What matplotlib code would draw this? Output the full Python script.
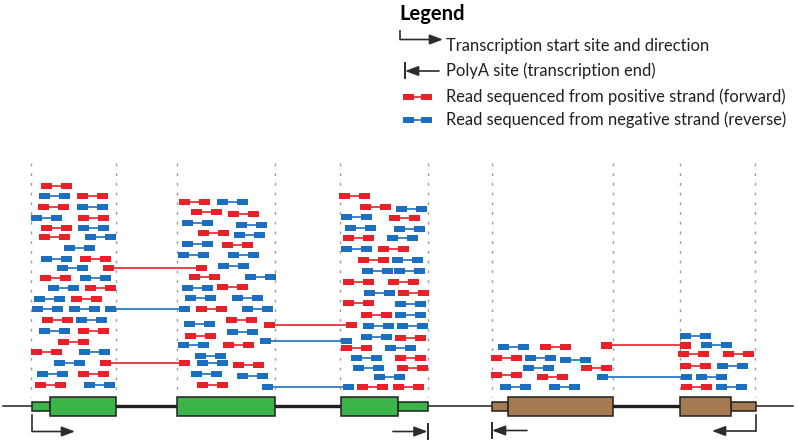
import matplotlib.pyplot as plt
from matplotlib.patches import Rectangle

plt.rcParams['font.family'] = ['Lato', 'DejaVu Sans']

RED = '#e8202a'
BLUE = '#1c6fbe'
GREEN = '#3cb44a'
BROWN = '#a57a50'
DARK = '#231f20'

# reads inside one exon: (start x, row y)
red_reads = [
    # exon 1
    (41, 186), (77, 196), (38, 207), (78, 218), (41, 228), (39, 237), (80, 259),
    (40, 278), (85, 288), (71, 299), (42, 320), (78, 331), (58, 342), (31, 352),
    (78, 374), (35, 385),
    # exon 2
    (179, 202), (191, 212), (228, 214), (198, 233), (222, 245), (189, 277),
    (217, 287), (196, 309), (226, 320), (185, 336), (223, 345), (233, 365), (197, 385),
    # exon 3
    (339, 196), (360, 207), (389, 218), (343, 238), (378, 249), (358, 260),
    (343, 282), (388, 282), (398, 293), (343, 303), (361, 315), (395, 338),
    (341, 348), (395, 358), (397, 368), (357, 387), (393, 387),
    # exon 4
    (540, 347), (491, 358), (581, 368), (491, 375), (537, 377),
    # exon 5
    (678, 354), (723, 354), (680, 366), (681, 387),
]
blue_reads = [
    # exon 1
    (39, 196), (77, 207), (31, 218), (78, 228), (85, 237), (64, 248), (41, 259),
    (57, 268), (80, 278), (48, 288), (34, 299), (32, 309), (69, 309), (76, 320),
    (39, 331), (79, 352), (54, 363), (37, 374), (84, 385),
    # exon 2
    (217, 202), (182, 223), (236, 225), (234, 235), (182, 244), (178, 255),
    (228, 255), (218, 266), (245, 277), (182, 288), (185, 298), (232, 298),
    (242, 309), (184, 324), (227, 332), (178, 345), (195, 356), (197, 363),
    (191, 374), (237, 376),
    # exon 3
    (396, 209), (341, 217), (345, 228), (394, 229), (387, 238), (341, 249),
    (392, 260), (362, 271), (394, 271), (364, 293), (395, 304), (395, 315),
    (363, 326), (397, 326), (361, 337), (385, 348), (351, 358), (353, 368), (374, 377),
    # exon 4
    (498, 347), (525, 358), (560, 360), (523, 368), (500, 387), (549, 387),
    # exon 5
    (680, 336), (701, 345), (717, 366), (696, 377), (716, 387),
]
# reads spanning a splice junction: (left start, right end, row y)
red_junctions = [(103, 207, 268), (100, 190, 363), (264, 357, 325), (601, 691, 345.5)]
blue_junctions = [(105, 190, 309), (260, 352, 341), (262, 354, 387), (597, 692, 377)]

READ_LEN = 31
BOX_W = 11
BOX_H = 6.5

# gene models: (start, end) of coding exons and UTRs
gene1_exons = [(50, 116), (177, 275), (341, 398)]
gene1_utrs = [(32, 50), (398, 428)]
gene2_exons = [(508, 613), (680, 731)]
gene2_utrs = [(492, 508), (731, 756)]
boundaries = [31, 116, 177, 275, 340, 428, 492, 613, 680, 755]

BASE_Y = 406.5

fig = plt.figure(figsize=(7.98, 4.4), dpi=100)
ax = fig.add_axes([0, 0, 1, 1])
ax.set_xlim(0, 798)
ax.set_ylim(440, 0)
ax.axis('off')


def draw_read(x0, x1, y, color):
    ax.plot([x0 + 2, x1 - 2], [y, y], color=color, lw=1.2, solid_capstyle='butt', zorder=3)
    for bx in (x0, x1 - BOX_W):
        ax.add_patch(Rectangle((bx, y - BOX_H / 2), BOX_W, BOX_H, facecolor=color,
                               edgecolor='none', zorder=4))


# exon boundary guides
for bx in boundaries:
    ax.plot([bx, bx], [163, 397], color='#9b9b9b', lw=1.0, dashes=(2, 5), zorder=1)

for x, y in red_reads:
    draw_read(x, x + READ_LEN, y, RED)
for x, y in blue_reads:
    draw_read(x, x + READ_LEN, y, BLUE)
for x0, x1, y in red_junctions:
    draw_read(x0, x1, y, RED)
for x0, x1, y in blue_junctions:
    draw_read(x0, x1, y, BLUE)

# backbone
ax.plot([3, 32], [BASE_Y, BASE_Y], color=DARK, lw=1.1, zorder=2)
ax.plot([428, 492], [BASE_Y, BASE_Y], color=DARK, lw=1.1, zorder=2)
ax.plot([756, 793], [BASE_Y, BASE_Y], color=DARK, lw=1.1, zorder=2)
ax.plot([116, 177], [BASE_Y, BASE_Y], color=DARK, lw=2.4, zorder=2)
ax.plot([275, 341], [BASE_Y, BASE_Y], color=DARK, lw=2.4, zorder=2)
ax.plot([613, 680], [BASE_Y, BASE_Y], color=DARK, lw=2.4, zorder=2)

for exons, utrs, col in [(gene1_exons, gene1_utrs, GREEN), (gene2_exons, gene2_utrs, BROWN)]:
    for a, b in utrs:
        ax.add_patch(Rectangle((a, BASE_Y - 4.3), b - a, 8.6, facecolor=col,
                               edgecolor=DARK, lw=1.1, zorder=5))
    for a, b in exons:
        ax.add_patch(Rectangle((a, BASE_Y - 9.3), b - a, 18.6, facecolor=col,
                               edgecolor=DARK, lw=1.1, zorder=6))

ARROW = dict(arrowstyle='-|>,head_length=0.8,head_width=0.3', color='#2b2b2b',
             lw=1.2, shrinkA=0, shrinkB=0)


def tss(x, y_top, y, x_end):
    ax.plot([x, x], [y_top, y], color='#2b2b2b', lw=1.2)
    ax.annotate('', xy=(x_end, y), xytext=(x, y), arrowprops=ARROW)


def polya(x, y, x_start, half=7.5):
    ax.plot([x, x], [y - half, y + half], color='#2b2b2b', lw=1.4)
    ax.annotate('', xy=(x, y), xytext=(x_start, y), arrowprops=ARROW)


tss(32, 415, 431.5, 75)
polya(427.5, 431.5, 393)
polya(492, 430.5, 527)
tss(755.5, 415, 431, 712)

# legend
TXT = '#231f20'
FS = 11.9
ax.text(399, 14, 'Legend', fontsize=14.5, fontweight='bold', va='center', ha='left', color='black')
ax.plot([400, 400], [31.5, 39.5], color='#2b2b2b', lw=1.2)
ax.annotate('', xy=(443, 39.5), xytext=(400, 39.5), arrowprops=ARROW)
ax.text(446, 46, 'Transcription start site and direction', fontsize=FS, va='center', ha='left', color=TXT)
ax.plot([405, 405], [63.5, 78], color='#2b2b2b', lw=1.4)
ax.annotate('', xy=(405, 71), xytext=(439, 71), arrowprops=ARROW)
ax.text(446, 70.5, 'PolyA site (transcription end)', fontsize=FS, va='center', ha='left', color=TXT)
draw_read(403, 432, 97, RED)
ax.text(446, 96.5, 'Read sequenced from positive strand (forward)', fontsize=FS, va='center', ha='left', color=TXT)
draw_read(403, 432, 120, BLUE)
ax.text(446, 120, 'Read sequenced from negative strand (reverse)', fontsize=FS, va='center', ha='left', color=TXT)

fig.savefig('out.png', dpi=100)
